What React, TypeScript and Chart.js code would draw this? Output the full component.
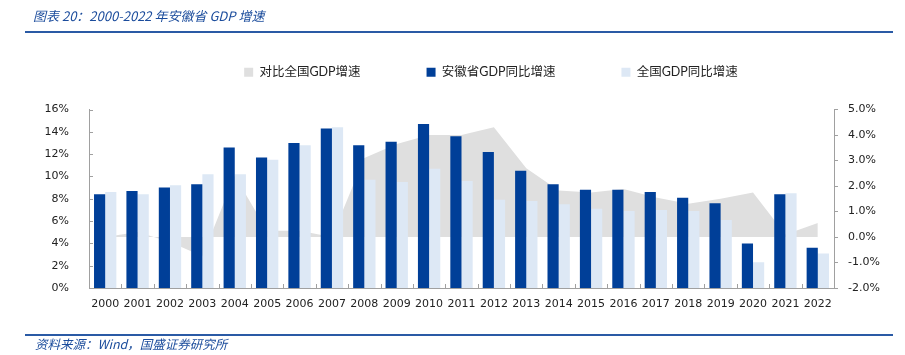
import React, { useEffect, useRef } from 'react';
import { Chart, registerables } from 'chart.js';

Chart.register(...registerables);

// ---- data ----
const years = [
  '2000', '2001', '2002', '2003', '2004', '2005', '2006', '2007', '2008', '2009', '2010', '2011',
  '2012', '2013', '2014', '2015', '2016', '2017', '2018', '2019', '2020', '2021', '2022',
];
// 安徽省GDP同比增速 (%), left axis
const anhuiGrowth = [
  8.4, 8.7, 9.0, 9.3, 12.6, 11.7, 13.0, 14.3, 12.8, 13.1, 14.7, 13.6,
  12.2, 10.5, 9.3, 8.8, 8.8, 8.6, 8.1, 7.6, 4.0, 8.4, 3.6,
];
// 全国GDP同比增速 (%), left axis
const nationalGrowth = [
  8.6, 8.4, 9.2, 10.2, 10.2, 11.5, 12.8, 14.4, 9.7, 9.5, 10.7, 9.6,
  7.9, 7.8, 7.5, 7.1, 6.9, 7.0, 6.9, 6.1, 2.3, 8.5, 3.1,
];
// 对比全国GDP增速 (percentage points), right axis
const growthGap = [
  0.0, 0.2, -0.2, -0.75, 2.4, 0.25, 0.25, 0.0, 3.1, 3.65, 4.0, 4.0,
  4.3, 2.7, 1.82, 1.75, 1.88, 1.55, 1.3, 1.5, 1.75, 0.1, 0.55,
];
const legendLabels = ['对比全国GDP增速', '安徽省GDP同比增速', '全国GDP同比增速'];
const titleText = '图表 20：2000-2022 年安徽省 GDP 增速';
const sourceText = '资料来源：Wind，国盛证券研究所';

const AXIS_COLOR = '#a0a0a0';
const TICK_FONT = { family: "'DejaVu Sans', Verdana, sans-serif", size: 11 };
const CJK_FONT = "Lato, 'Noto Sans CJK SC', sans-serif";
const LEGEND_LEFT = 77;

export default function App() {
  const canvasRef = useRef<HTMLCanvasElement | null>(null);

  useEffect(() => {
    const canvas = canvasRef.current;
    if (!canvas) return;

    // short inward tick marks on the left and bottom axes
    const innerTicks = {
      id: 'innerTicks',
      afterDatasetsDraw(chart: any) {
        const { ctx, scales } = chart;
        const x = scales.x;
        const y = scales.y;
        ctx.save();
        ctx.strokeStyle = AXIS_COLOR;
        ctx.lineWidth = 1;
        ctx.beginPath();
        y.ticks.forEach((t: any) => {
          const py = Math.round(y.getPixelForValue(t.value)) + 0.5;
          ctx.moveTo(x.left, py);
          ctx.lineTo(x.left + 4, py);
        });
        for (let i = 0; i <= years.length; i++) {
          const px = Math.round(x.getPixelForValue(i - 0.5)) + 0.5;
          ctx.moveTo(px, y.bottom);
          ctx.lineTo(px, y.bottom - 4);
        }
        ctx.stroke();
        ctx.restore();
      },
    };

    // the legend in the reference sits right of the page centre
    const legendShift = {
      id: 'legendShift',
      beforeDraw(chart: any) {
        const lg = chart.legend;
        if (lg) lg.left = LEGEND_LEFT;
      },
    };

    const chart = new Chart(canvas, {
      type: 'bar',
      data: {
        labels: years,
        datasets: [
          {
            type: 'line',
            label: legendLabels[0],
            data: growthGap,
            yAxisID: 'y1',
            fill: 'origin',
            backgroundColor: '#dfdfdf',
            borderColor: '#dfdfdf',
            borderWidth: 0,
            pointRadius: 0,
            tension: 0,
            order: 2,
          } as any,
          {
            type: 'bar',
            label: legendLabels[1],
            data: anhuiGrowth,
            yAxisID: 'y',
            backgroundColor: '#003f98',
            borderWidth: 0,
            categoryPercentage: 0.69,
            barPercentage: 1,
            order: 1,
          },
          {
            type: 'bar',
            label: legendLabels[2],
            data: nationalGrowth,
            yAxisID: 'y',
            backgroundColor: '#dde8f5',
            borderWidth: 0,
            categoryPercentage: 0.69,
            barPercentage: 1,
            order: 1,
          },
        ],
      },
      options: {
        responsive: false,
        animation: false,
        layout: { padding: { top: 0, left: 0, right: 0, bottom: 0 } },
        plugins: {
          legend: {
            position: 'top',
            align: 'center',
            weight: 3000,
            labels: {
              boxWidth: 9,
              boxHeight: 9,
              padding: 66,
              color: '#222',
              font: { family: CJK_FONT, size: 12.5 },
              sort: (a: any, b: any) => a.datasetIndex - b.datasetIndex,
            },
          } as any,
          title: {
            display: true,
            text: ' ',
            weight: 500,
            font: { size: 5 },
            padding: { top: 0, bottom: 15 },
          } as any,
          tooltip: { enabled: false },
        },
        scales: {
          x: {
            grid: { display: false },
            border: { display: true, color: AXIS_COLOR },
            ticks: { color: '#222', font: TICK_FONT, padding: 2, autoSkip: false, maxRotation: 0 },
            afterFit: (s: any) => { s.height = 67; },
          },
          y: {
            position: 'left',
            min: 0,
            max: 16,
            grid: { display: false },
            border: { display: true, color: AXIS_COLOR },
            ticks: {
              stepSize: 2,
              color: '#222',
              font: TICK_FONT,
              padding: 12,
              callback: (v: any) => `${v}%`,
            },
            afterFit: (s: any) => { s.width = 89; },
          },
          y1: {
            position: 'right',
            min: -2,
            max: 5,
            grid: { drawOnChartArea: false, drawTicks: true, tickLength: 4, color: AXIS_COLOR },
            border: { display: true, color: AXIS_COLOR },
            ticks: {
              stepSize: 1,
              color: '#222',
              font: TICK_FONT,
              padding: 10,
              callback: (v: any) => `${Number(v).toFixed(1)}%`,
            },
            afterFit: (s: any) => { s.width = 71; },
          },
        },
      },
      plugins: [innerTicks, legendShift],
    });

    return () => chart.destroy();
  }, []);

  const textStyle: React.CSSProperties = {
    position: 'absolute',
    fontFamily: "'Noto Sans CJK SC', sans-serif",
    fontStyle: 'italic',
    fontSize: 12.5,
    color: '#1b4c9c',
    whiteSpace: 'nowrap',
    lineHeight: '16px',
  };

  return (
    <div style={{ position: 'fixed', left: 0, top: 0, width: 905, height: 355, background: '#fff', overflow: 'hidden' }}>
      <canvas
        ref={canvasRef}
        width={905}
        height={355}
        style={{ position: 'absolute', left: 0, top: 0, width: 905, height: 355 }}
      />
      <div style={{ ...textStyle, left: 33, top: 8, fontSize: 13 }}>{titleText}</div>
      <div style={{ position: 'absolute', left: 25, top: 31, width: 868, height: 2, background: '#2a5aa5' }} />
      <div style={{ position: 'absolute', left: 25, top: 334, width: 868, height: 2, background: '#2a5aa5' }} />
      <div style={{ ...textStyle, left: 35, top: 336 }}>{sourceText}</div>
    </div>
  );
}
